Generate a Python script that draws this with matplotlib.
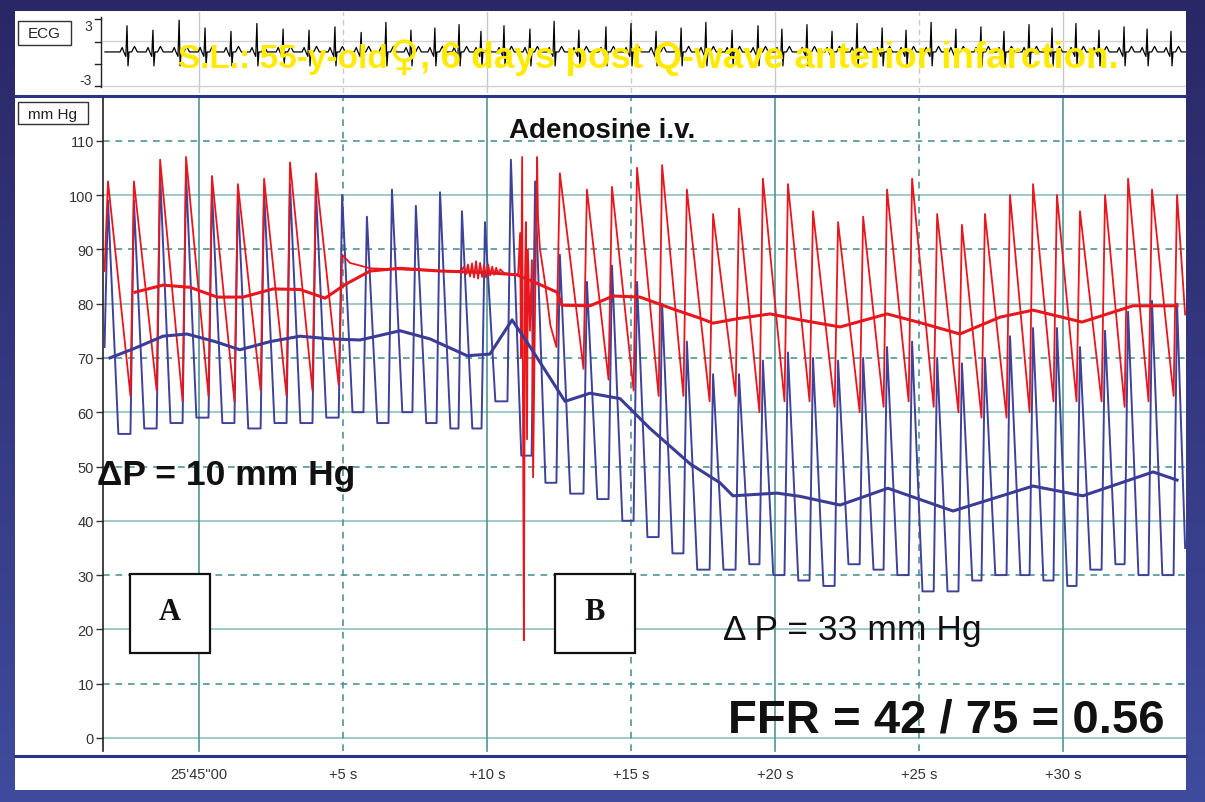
import numpy as np
import matplotlib
matplotlib.use("Agg")
import matplotlib.pyplot as plt
from matplotlib.colors import LinearSegmentedColormap
from matplotlib.patches import Rectangle

W, H = 1205, 803
plt.rcParams["font.family"] = ["Liberation Sans", "DejaVu Sans"]

# ---- data: time in s after 25'45"00, pressures in mm Hg ----
beat_t = [-3.16, -2.26, -1.35, -0.45, 0.45, 1.35, 2.26, 3.16, 4.06, 4.97,
          5.83, 6.70, 7.53, 8.37, 9.13, 9.93, 10.83, 11.67, 12.53, 13.47,
          14.34, 15.21, 16.08, 16.94, 17.85, 18.75, 19.58, 20.45, 21.32, 22.19,
          23.06, 23.89, 24.76, 25.63, 26.49, 27.29, 28.16, 28.96, 29.79, 30.59,
          31.46, 32.26, 33.09, 33.96]

# distal pressure (Pd, blue) per beat
blue_peak = [99, 99, 104, 104, 101, 100, 101, 102, 101, 100,
             96, 101, 98, 100.5, 97, 95, 106.5, 102.5, 89, 84,
             87, 84, 80, 73, 67, 67, 69.5, 71, 70, 69.5,
             70, 72, 73, 70, 69, 70, 74, 75.5, 75.5, 72,
             75, 78.5, 80.5, 80]
blue_trough = [72, 56, 57, 58, 59, 58, 57, 58, 58, 59,
               60, 58, 60, 58, 57, 57, 62, 52, 47, 45,
               44, 40, 37, 34, 31, 31, 32, 30, 29, 28,
               32, 31, 30, 27, 27, 29, 30, 30, 29, 28,
               31, 32, 30, 30]
blue_end = (34.24, 35)

# aortic pressure (Pa, red): first 9 beats, then flat/flush, then beats 18..43
red_peak_a = [102.5, 102.5, 106.5, 107, 103.5, 102, 103, 106, 104]
red_trough_a = [86, 63, 64, 62, 63, 62, 64, 63, 64]
red_a_end = (4.85, 65)

red_flat_t = [4.97, 5.24, 5.94, 6.98, 8.37, 9.10, 9.20, 9.27, 9.34, 9.41,
              9.48, 9.55, 9.62, 9.69, 9.76, 9.83, 9.90, 9.97, 10.04, 10.11,
              10.18, 10.25, 10.32, 10.39, 10.46, 10.60, 11.08]
red_flat_v = [89, 87.5, 86.5, 86.3, 86, 86, 86.8, 85.4, 87.2, 85,
              87.4, 84.8, 87.8, 84.6, 87.5, 84.9, 87, 84.8, 87.2, 85.2,
              86.8, 85.3, 86.6, 85.4, 86.3, 85.6, 85.3]

red_art_t = [11.08, 11.15, 11.18, 11.22, 11.25, 11.28, 11.32, 11.35, 11.39, 11.42,
             11.49, 11.56, 11.60, 11.67, 11.74, 11.77, 11.84, 12.01, 12.20]
red_art_v = [85.3, 93, 70, 107, 60, 18, 85, 95, 55, 90,
             75, 88, 48, 80, 107, 96, 90, 84, 76]

red_peak_b = [104, 101, 101.5, 105, 105.5, 101, 96.5, 97.5, 103, 102,
              97, 95, 96, 101, 103, 96.5, 94.5, 96.5, 100, 102,
              100, 97, 100, 103, 101, 100]
red_trough_b = [72, 68, 66, 64, 63, 63, 62, 63, 60, 62,
                62, 61, 60, 61, 62, 61, 60, 59, 59, 60,
                62, 62, 62, 61, 62, 63]
red_end = (34.24, 78)

# mean pressures (thick lines)
red_mean_t = [-2.22, -1.25, -0.31, 0.63, 1.53, 2.57, 3.51, 4.38, 5.07, 5.94,
              6.98, 8.37, 10.0, 11.04, 11.84, 12.43, 12.60, 13.58, 14.38, 15.31,
              16.46, 17.40, 17.85, 18.78, 19.83, 20.87, 22.26, 23.89, 25.03, 26.42,
              27.81, 28.96, 30.66, 32.43, 33.96]
red_mean_v = [82.1, 83.4, 83, 81.2, 81.2, 82.7, 82.6, 81, 83.5, 86,
              86.5, 86, 85.7, 85.3, 83.5, 82.1, 79.7, 79.6, 81.4, 81.2,
              79, 77.3, 76.4, 77.3, 78.1, 77, 75.7, 78.1, 76.5, 74.4,
              77.5, 78.8, 76.6, 79.6, 79.6]

blue_mean_t = [-3.09, -2.22, -1.25, -0.42, 0.56, 1.42, 2.47, 3.51, 4.55, 5.59,
               6.98, 8.02, 9.31, 10.10, 10.87, 11.39, 11.84, 12.71, 13.58, 14.62,
               15.66, 17.05, 18.09, 18.54, 20.07, 20.87, 22.26, 23.92, 26.18, 27.81,
               28.96, 30.69, 33.13, 33.96]
blue_mean_v = [70, 71.8, 74, 74.4, 73, 71.5, 73, 74, 73.5, 73.3,
               75, 73.5, 70.4, 70.7, 77, 72.9, 69.2, 62, 63.5, 62.5,
               57, 50.5, 47, 44.6, 45.1, 44.5, 42.9, 46, 41.8, 44.5,
               46.4, 44.6, 49, 47.5]

# ECG R waves
ecg_r_t = [-2.50, -1.60, -0.69, 0.21, 1.11, 2.01, 2.92, 3.82, 4.72, 5.63,
           6.49, 7.36, 8.19, 9.03, 9.79, 10.59, 11.49, 12.33, 13.19, 14.13,
           15.0, 15.87, 16.74, 17.60, 18.51, 19.41, 20.24, 21.11, 21.98, 22.85,
           23.72, 24.55, 25.42, 26.28, 27.15, 27.95, 28.82, 29.62, 30.45, 31.25,
           32.12, 32.92, 33.75]
ecg_r = [2.4, 2.0, 2.9, 2.2, 1.9, 2.6, 2.1, 2.0, 2.3, 1.8,
         2.7, 2.0, 2.2, 2.5, 1.9, 2.4, 2.1, 2.8, 2.0, 2.3,
         2.6, 1.9, 2.2, 2.7, 2.0, 2.4, 2.1, 2.5, 1.9, 2.6,
         2.2, 2.0, 2.7, 2.1, 2.3, 1.9, 2.5, 2.2, 2.6, 2.0,
         2.3, 2.1, 1.9]

y_ticks = list(range(0, 120, 10))
x_ticks = [0, 5, 10, 15, 20, 25, 30]
x_labels = ["25'45\"00", "+5 s", "+10 s", "+15 s", "+20 s", "+25 s", "+30 s"]
title_parts = ["S.L.: 55-y-old", "\u2640", ", 6 days post Q-wave anterior infarction."]

# ---- layout (pixels) ----
RED = "#e8161d"
BLUE = "#3f4299"
GRID = "#4e9696"
GRID_LIGHT = "#97c6c6"
YELLOW = "#ffea00"
NARROW = ["Liberation Sans Narrow", "Liberation Sans", "DejaVu Sans"]
T0_PX, PX_PER_S = 199, 28.8
P0_PX, PX_PER_MM = 739, 5.43
AX_X0, AX_X1, AX_Y0, AX_Y1 = 103, 1186, 99, 756
ECG_Y0, ECG_Y1 = 13, 94


def t_of(px):
    return (px - T0_PX) / PX_PER_S


def p_of(py):
    return (P0_PX - py) / PX_PER_MM


def px_rect(x0, y0, x1, y1):
    return [x0 / W, 1 - y1 / H, (x1 - x0) / W, (y1 - y0) / H]


def red_wave(pt, peaks, troughs, rise=0.12):
    ts, vs = [], []
    for t, p, q in zip(pt, peaks, troughs):
        ts += [t - rise, t]
        vs += [q, p]
    return ts, vs


def blue_wave(pt, peaks, troughs, rise=0.12, fall=0.36):
    ts, vs = [], []
    for i in range(len(pt)):
        ts += [pt[i] - rise, pt[i]]
        vs += [troughs[i], peaks[i]]
        if i + 1 < len(pt):
            ts.append(pt[i] + fall)
            vs.append(troughs[i + 1])
    return ts, vs


def ecg_wave(r_t, r_amp):
    offs = [-0.24, -0.17, -0.11, -0.04, 0.0, 0.035, 0.07, 0.16, 0.26, 0.36]
    ts, vs = [t_of(105)], [0.05]
    for t, r in zip(r_t, r_amp):
        shape = [0.05, 0.45, 0.05, -0.35, r, -1.2, 0.05, 0.05, 0.55, 0.05]
        for o, v in zip(offs, shape):
            ts.append(t + o)
            vs.append(v)
    ts.append(t_of(AX_X1))
    vs.append(0.05)
    return ts, vs


fig = plt.figure(figsize=(W / 100, H / 100), dpi=100)

# background: blue gradient frame + white panels
bg = fig.add_axes([0, 0, 1, 1], zorder=-5)
grad = LinearSegmentedColormap.from_list("frame", ["#2a2766", "#3f4b9d"])
bg.imshow(np.linspace(0, 1, 256).reshape(-1, 1), cmap=grad, aspect="auto",
          extent=[0, W, H, 0])
bg.add_patch(Rectangle((15, 12), 1171, 779, fc="white", ec="none"))
for y in (97, 757):
    bg.plot([15, 1186], [y, y], color="#29338a", lw=2.2)
bg.add_patch(Rectangle((18, 22), 53, 24, fc="white", ec="#333333", lw=1))
bg.text(44.5, 34.5, "ECG", ha="center", va="center", fontsize=11, color="#222")
bg.add_patch(Rectangle((18, 103), 70, 22, fc="white", ec="#333333", lw=1))
bg.text(53, 114.5, "mm Hg", ha="center", va="center", fontsize=11, color="#222")
bg.plot([101, 101], [18, 88], color="#222", lw=1)
for y in (20, 43, 65, 87):
    bg.plot([95, 101], [y, y], color="#222", lw=1)
bg.text(92, 27, "3", ha="right", va="center", fontsize=10, color="#333")
bg.text(92, 81, "-3", ha="right", va="center", fontsize=10, color="#333")
bg.set_xlim(0, W)
bg.set_ylim(H, 0)
bg.axis("off")

# ECG strip
ea = fig.add_axes(px_rect(AX_X0, ECG_Y0, AX_X1, ECG_Y1))
ea.set_facecolor("none")
ea.set_xlim(t_of(AX_X0), t_of(AX_X1))
ea.set_ylim(-3.63, 3.63)
for t in x_ticks:
    ea.axvline(t, color="#c9c9c9", lw=1, ls="-" if t % 10 == 0 else (0, (4, 3)))
for v in (1, -3):
    ea.axhline(v, color="#d2d2d2", lw=1)
et, ev = ecg_wave(ecg_r_t, ecg_r)
ea.plot(et, ev, color="black", lw=0.9)
ea.axis("off")

# main pressure panel
ax = fig.add_axes(px_rect(AX_X0, AX_Y0, AX_X1, AX_Y1))
ax.set_facecolor("none")
ax.set_xlim(t_of(AX_X0), t_of(AX_X1))
ax.set_ylim(p_of(AX_Y1), p_of(AX_Y0))
for v in y_ticks:
    if v % 20 == 0:
        ax.axhline(v, color=GRID_LIGHT, lw=1.3, zorder=1)
    else:
        ax.axhline(v, color=GRID, lw=1.2, ls=(0, (4, 3.5)), zorder=1)
ymin_frac = (AX_Y1 - 752) / (AX_Y1 - AX_Y0)
for t in x_ticks:
    if t % 10 == 0:
        ax.axvline(t, ymin=ymin_frac, color=GRID, lw=1.2, zorder=1)
    else:
        ax.axvline(t, ymin=ymin_frac, color=GRID, lw=1.2, ls=(0, (4, 3.5)), zorder=1)

bt, bv = blue_wave(beat_t, blue_peak, blue_trough)
bt.append(blue_end[0]); bv.append(blue_end[1])
ax.plot(bt, bv, color=BLUE, lw=1.4, zorder=3)

rt, rv = red_wave(beat_t[:9], red_peak_a, red_trough_a)
rt.append(red_a_end[0]); rv.append(red_a_end[1])
rt += red_flat_t; rv += red_flat_v
rt += red_art_t; rv += red_art_v
rbt, rbv = red_wave(beat_t[18:], red_peak_b, red_trough_b)
rt += rbt; rv += rbv
rt.append(red_end[0]); rv.append(red_end[1])
ax.plot(rt, rv, color=RED, lw=1.3, zorder=4)

ax.plot(red_mean_t, red_mean_v, color=RED, lw=2.2, zorder=5)
ax.plot(blue_mean_t, blue_mean_v, color="#3a3c95", lw=2.2, zorder=5)

for s in ("top", "right", "bottom"):
    ax.spines[s].set_visible(False)
ax.spines["left"].set_color("#222")
ax.spines["left"].set_linewidth(1.2)
ax.spines["left"].set_bounds(p_of(752), p_of(AX_Y0))
ax.set_yticks(y_ticks)
ax.tick_params(axis="y", length=5, width=1, color="#333", labelsize=10.5,
               labelcolor="#333", pad=1.5)
ax.set_xticks(x_ticks, x_labels)
ax.tick_params(axis="x", length=0, pad=9, labelsize=10.5, labelcolor="#333")
for lbl in ax.get_xticklabels():
    lbl.set_fontfamily(NARROW)

# annotations overlay (pixel coordinates)
ov = fig.add_axes([0, 0, 1, 1], zorder=10)
ov.set_facecolor("none")
ov.set_xlim(0, W)
ov.set_ylim(H, 0)
ov.axis("off")

# yellow caption, written in three pieces placed one after the other
renderer = fig.canvas.get_renderer()
t1 = ov.text(178, 68, title_parts[0], ha="left", va="baseline", fontsize=24,
             fontweight="bold", color=YELLOW)
x_end = ov.transData.inverted().transform(t1.get_window_extent(renderer))[1][0]
t2 = ov.text(x_end + 1, 70, title_parts[1], ha="left", va="baseline", fontsize=30,
             family="DejaVu Sans", color=YELLOW)
x_end = ov.transData.inverted().transform(t2.get_window_extent(renderer))[1][0]
ov.text(x_end + 1, 68, title_parts[2], ha="left", va="baseline", fontsize=26.5,
        fontweight="bold", color=YELLOW)

ov.text(602, 131, "Adenosine i.v.", ha="center", va="center", fontsize=20,
        fontweight="bold", color="#111")
for x0, y0, lab in ((130, 575, "A"), (555, 575, "B")):
    ov.add_patch(Rectangle((x0, y0), 80, 79, fc="white", ec="#111", lw=1.6))
    ov.text(x0 + 40, y0 + 38, lab, ha="center", va="center", fontsize=22,
            fontweight="bold", family=["Liberation Serif", "DejaVu Serif"],
            color="#111")
ov.text(97, 485, "\u0394P = 10 mm Hg", ha="left", va="baseline", fontsize=25.5,
        fontweight="bold", color="#111")
ov.text(723, 640, "\u0394 P = 33 mm Hg", ha="left", va="baseline", fontsize=25.5,
        color="#111")
ov.text(1165, 733, "FFR = 42 / 75 = 0.56", ha="right", va="baseline",
        fontsize=34, fontweight="bold", family=NARROW, color="#111")

fig.savefig("out.png", dpi=100)
